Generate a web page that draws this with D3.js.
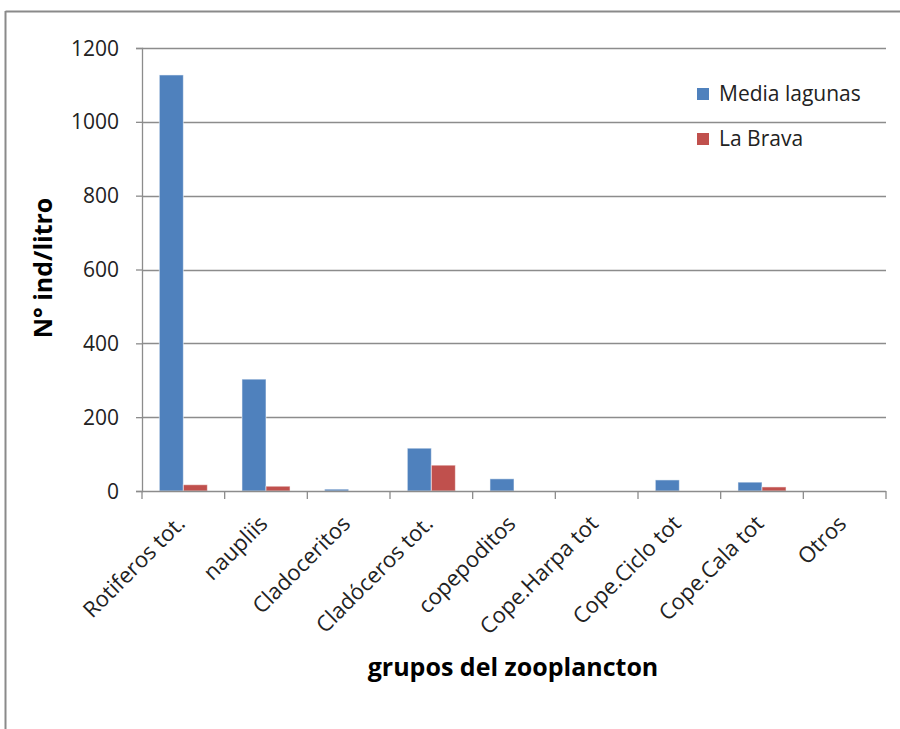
<!DOCTYPE html>
<html>
<head>
<meta charset="utf-8">
<script src="https://cdn.jsdelivr.net/npm/d3@7/dist/d3.min.js"></script>
<style>
  html, body { margin: 0; padding: 0; background: #fff; }
  svg { display: block; font-family: "Open Sans", "Noto Sans", sans-serif; }
</style>
</head>
<body>
<svg id="chart" width="900" height="729"></svg>
<script>
// Zooplankton groups (ind/litro)
const categories = ["Rotiferos tot.", "naupliis", "Cladoceritos", "Cladóceros tot.", "copepoditos",
                    "Cope.Harpa tot", "Cope.Ciclo tot", "Cope.Cala tot", "Otros"];
const seriesNames = ["Media lagunas", "La Brava"];
const mediaLagunas = [1127, 303, 5, 116, 33, 0, 30, 24, 0];
const laBrava = [17, 13, 0, 70, 0, 0, 0, 11, 0];
const yTicks = [0, 200, 400, 600, 800, 1000, 1200];
const colors = ["#4F81BD", "#C0504D"];

const series = [mediaLagunas, laBrava];
const rows = categories.map((c, i) => ({ cat: c, values: series.map((s, k) => ({ key: seriesNames[k], k, v: s[i] })) }));

const svg = d3.select("#chart");
const gridColor = "#8c8c8c";

// outer frame (top and left edges visible)
svg.append("line").attr("x1", 5.5).attr("x2", 900).attr("y1", 11.5).attr("y2", 11.5)
  .attr("stroke", "#8a8a8a").attr("stroke-width", 2);
svg.append("line").attr("x1", 5.5).attr("x2", 5.5).attr("y1", 11).attr("y2", 729)
  .attr("stroke", "#8a8a8a").attr("stroke-width", 2);

const plot = { left: 142, right: 886, top: 48, bottom: 491 };

const x = d3.scaleBand().domain(categories).range([plot.left, plot.right]).paddingInner(0).paddingOuter(0);
const inner = d3.scaleBand().domain([0, 1]).range([0, x.bandwidth()]).paddingOuter(0.72).paddingInner(0);
const y = d3.scaleLinear().domain([0, 1200]).range([plot.bottom, plot.top]);

// horizontal gridlines
svg.append("g").selectAll("line").data(yTicks.filter(t => t > 0)).join("line")
  .attr("x1", plot.left).attr("x2", plot.right)
  .attr("y1", d => Math.round(y(d)) + 0.5).attr("y2", d => Math.round(y(d)) + 0.5)
  .attr("stroke", gridColor).attr("stroke-width", 1.3);

// bars
const groups = svg.append("g").selectAll("g").data(rows).join("g")
  .attr("transform", d => `translate(${x(d.cat)},0)`);
groups.selectAll("rect").data(d => d.values.filter(e => e.v > 0)).join("rect")
  .attr("x", d => inner(d.k))
  .attr("width", inner.bandwidth())
  .attr("y", d => y(d.v))
  .attr("height", d => y(0) - y(d.v))
  .attr("fill", d => colors[d.k])
  .attr("stroke", "#ffffff").attr("stroke-opacity", 0.55).attr("stroke-width", 1);

// y axis
const yAxis = d3.axisLeft(y).tickValues(yTicks).tickSize(6).tickPadding(17).tickFormat(d3.format("d"));
const gy = svg.append("g").attr("transform", `translate(${plot.left},0)`).call(yAxis);
gy.select(".domain").attr("stroke", gridColor).attr("stroke-width", 1.3);
gy.selectAll(".tick line").attr("stroke", gridColor).attr("stroke-width", 1.3);
gy.selectAll(".tick text").attr("font-size", 21).attr("fill", "#222")
  .attr("font-family", "'Open Sans', sans-serif").attr("dy", "0.34em");

// x axis: ticks at category boundaries
const boundaries = d3.range(categories.length + 1).map(i => plot.left + i * x.step());
const gx = svg.append("g");
gx.append("line").attr("x1", plot.left).attr("x2", plot.right)
  .attr("y1", plot.bottom + 0.5).attr("y2", plot.bottom + 0.5)
  .attr("stroke", gridColor).attr("stroke-width", 1.3);
gx.selectAll("line.tk").data(boundaries).join("line").attr("class", "tk")
  .attr("x1", d => d).attr("x2", d => d)
  .attr("y1", plot.bottom).attr("y2", plot.bottom + 8)
  .attr("stroke", gridColor).attr("stroke-width", 1.3);
gx.selectAll("text").data(categories).join("text")
  .attr("transform", d => `translate(${x(d) + x.bandwidth() / 2 + 3},${plot.bottom + 34}) rotate(-45)`)
  .attr("text-anchor", "end")
  .attr("font-size", 22).attr("fill", "#222")
  .text(d => d);

// axis titles
svg.append("text")
  .attr("transform", `translate(52,268) rotate(-90)`)
  .attr("text-anchor", "middle")
  .attr("font-size", 25).attr("font-weight", "bold").attr("fill", "#000")
  .text("N° ind/litro");
svg.append("text")
  .attr("x", 513).attr("y", 676)
  .attr("text-anchor", "middle")
  .attr("font-size", 25).attr("font-weight", "bold").attr("fill", "#000")
  .text("grupos del zooplancton");

// legend
const legend = svg.append("g").attr("transform", "translate(697,88)");
const li = legend.selectAll("g").data(seriesNames).join("g")
  .attr("transform", (d, i) => `translate(0,${i * 45})`);
li.append("rect").attr("width", 12).attr("height", 12).attr("fill", (d, i) => colors[i]);
li.append("text").attr("x", 22).attr("y", 12.5)
  .attr("font-size", 21).attr("fill", "#222").text(d => d);
</script>
</body>
</html>
